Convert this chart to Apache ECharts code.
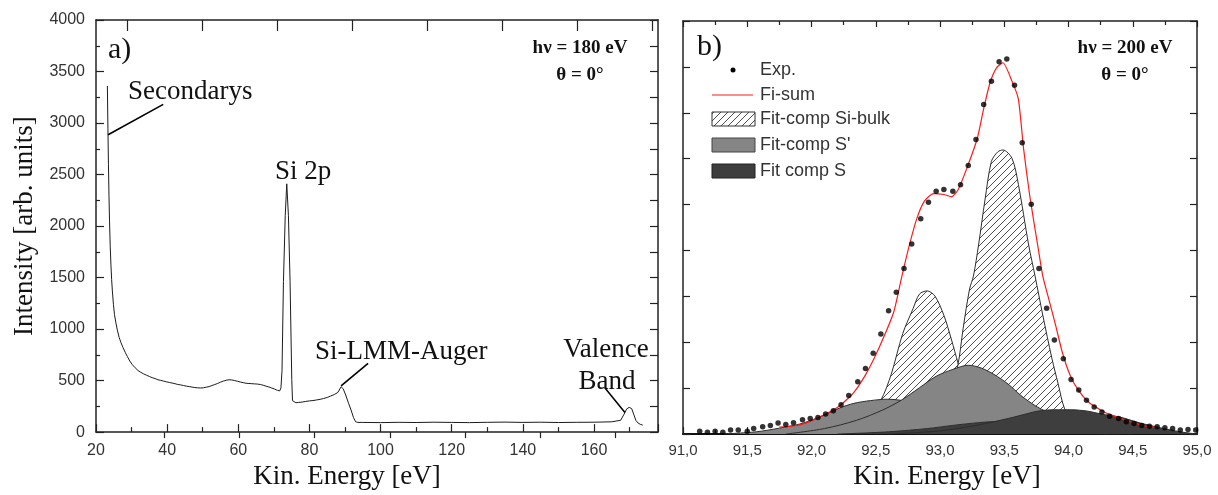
<!DOCTYPE html>
<html><head><meta charset="utf-8">
<script src="https://cdn.jsdelivr.net/npm/echarts@6/dist/echarts.min.js"></script>
<style>html,body{margin:0;padding:0;background:#fff}#c{width:1218px;height:495px}</style>
</head><body><div id="c"></div>
<script>
// ---------- Panel a) survey spectrum ----------
const specX = [23.2,23.35,23.5,23.65,23.8,24.0,24.2,24.4,24.6,24.9,25.2,25.6,26.0,26.5,27.0,27.6,28.2,28.8,29.5,30.2,31.0,31.8,32.6,33.4,34.2,35.0,35.8,36.6,37.4,38.2,39.0,39.8,40.6,41.4,42.2,43.0,43.8,44.6,45.4,46.2,47.0,47.8,48.6,49.4,50.2,51.0,51.8,52.6,53.4,54.2,55.0,55.8,56.6,57.4,58.2,59.0,59.8,60.6,61.4,62.2,63.0,63.8,64.6,65.4,66.2,67.0,67.8,68.6,69.4,70.2,71.0,71.65,72.0,72.3,72.7,73.2,73.63,74.1,74.56,75.04,75.24,75.6,76.2,77,78,79,80,81,82,83,84,85,86,87,88,88.9,89.5,90.2,91.0,91.7,92.4,93.0,93.6,95,100,105,110,115,120,125,130,135,140,145,150,155,160,165,167.5,168.4,169.2,169.9,170.6,171.2,171.8,172.4,173.0,173.7,174.4];
const specY = [3360,2950,2600,2300,2050,1800,1620,1480,1370,1240,1140,1060,990,920,870,820,775,735,690,655,625,598,580,565,552,540,528,520,508,502,495,488,482,476,470,462,458,452,446,442,437,432,430,428,430,436,442,452,462,472,485,495,503,508,506,500,493,486,480,474,472,470,468,466,462,455,446,438,428,418,405,400,430,600,1460,2100,2410,2100,1460,510,305,290,285,288,292,298,303,306,312,318,326,336,350,365,385,440,420,360,280,215,140,100,94,94,92,95,93,96,94,92,95,97,94,96,93,95,96,100,115,170,225,240,228,170,112,88,76,68];

// ---------- Panel b) Si 2p fit ----------
const expX = [91.13,91.19,91.25,91.31,91.37,91.43,91.50,91.55,91.62,91.68,91.74,91.80,91.86,91.93,91.99,92.05,92.11,92.17,92.23,92.29,92.36,92.42,92.48,92.54,92.60,92.66,92.72,92.78,92.85,92.91,92.97,93.03,93.10,93.16,93.22,93.28,93.34,93.40,93.46,93.52,93.58,93.64,93.71,93.77,93.83,93.89,93.96,94.02,94.08,94.14,94.20,94.26,94.32,94.39,94.45,94.51,94.57,94.63,94.69,94.75,94.81,94.87,94.93,94.99];
const expY = [0.06,0.04,0.06,0.04,0.09,0.09,0.06,0.12,0.16,0.19,0.24,0.21,0.25,0.31,0.34,0.36,0.44,0.51,0.64,0.84,1.14,1.43,1.76,2.18,2.69,3.09,3.61,4.14,4.69,5.05,5.29,5.33,5.29,5.43,5.85,6.42,7.18,7.69,8.11,8.17,7.60,6.35,5.01,3.61,2.74,2.05,1.64,1.19,0.96,0.74,0.59,0.48,0.39,0.34,0.27,0.23,0.19,0.17,0.16,0.14,0.12,0.09,0.10,0.09];

const sumX = [91.75,91.91,92.07,92.22,92.33,92.43,92.53,92.64,92.70,92.76,92.82,92.88,92.95,93.03,93.09,93.14,93.21,93.29,93.34,93.39,93.44,93.49,93.56,93.61,93.65,93.70,93.76,93.80,93.84,93.90,93.95,94.01,94.08,94.16,94.26,94.32,94.45,94.58,94.69];
const sumY = [0.15,0.20,0.38,0.62,0.91,1.34,1.91,2.66,3.40,4.10,4.70,5.08,5.24,5.22,5.17,5.32,5.80,6.44,7.09,7.66,7.98,8.09,7.69,7.30,6.23,5.16,4.12,3.44,3.01,2.37,1.80,1.30,0.94,0.69,0.51,0.43,0.30,0.19,0.14];

const siBulk1X = [92.2,92.35,92.45,92.54,92.62,92.71,92.79,92.84,92.90,92.96,93.03,93.09,93.14,93.2,93.3,93.45,93.6];
const siBulk1Y = [0.0,0.15,0.45,0.74,1.30,2.19,2.73,3.05,3.12,3.01,2.59,2.05,1.55,1.0,0.45,0.12,0.0];
const siBulk2X = [92.7,92.9,93.0,93.08,93.14,93.18,93.23,93.26,93.30,93.35,93.40,93.45,93.49,93.56,93.61,93.69,93.74,93.80,93.87,93.92,93.97,94.05,94.15,94.3];
const siBulk2Y = [0.0,0.2,0.45,0.9,1.51,2.30,3.16,3.44,4.12,5.1,5.94,6.15,6.19,6.01,5.44,4.12,3.44,2.59,1.66,1.09,0.55,0.2,0.05,0.0];
const sPrime1X = [91.3,91.57,91.75,91.91,92.07,92.22,92.33,92.46,92.59,92.71,92.84,92.97,93.10,93.27,93.45,93.7,94.0,94.4];
const sPrime1Y = [0.0,0.05,0.13,0.22,0.38,0.57,0.67,0.73,0.76,0.73,0.65,0.51,0.37,0.25,0.14,0.06,0.02,0.0];
const sPrime2X = [91.8,92.1,92.35,92.55,92.70,92.84,92.97,93.10,93.22,93.32,93.42,93.53,93.63,93.74,93.82,93.95,94.1,94.3,94.6,95.0];
const sPrime2Y = [0.0,0.12,0.30,0.52,0.74,1.01,1.26,1.41,1.50,1.44,1.30,1.09,0.84,0.62,0.50,0.34,0.20,0.10,0.03,0.0];
const s1X = [92.2,92.6,92.9,93.1,93.3,93.42,93.55,93.7,93.9,94.2,94.5];
const s1Y = [0.0,0.05,0.12,0.19,0.25,0.27,0.25,0.19,0.10,0.03,0.0];
const s2X = [92.6,93.0,93.3,93.53,93.63,93.76,93.89,94.02,94.15,94.25,94.4,94.56,94.71,94.87,95.0];
const s2Y = [0.0,0.07,0.20,0.34,0.41,0.50,0.53,0.53,0.50,0.44,0.37,0.24,0.14,0.05,0.0];

// tick positions of the offset top axis of panel a)
const topLongTicks = [0,2,4,6,8,10,12,14];
const topShortTicks = [1,3,5,7,9,11,13];

const legendNames = ['Exp.','Fi-sum','Fit-comp Si-bulk',"Fit-comp S'",'Fit comp S'];

const pairs = (xs, ys) => xs.map((x, i) => [x, ys[i]]);

const SERIF = "'Liberation Serif','Times New Roman',serif";
const SANS = "'Liberation Sans',Arial,sans-serif";
const AX = '#222';

// hatch pattern
const pc = document.createElement('canvas');
pc.width = 7; pc.height = 7;
const g = pc.getContext('2d');
g.fillStyle = '#fff'; g.fillRect(0, 0, 7, 7);
g.strokeStyle = '#3a3a3a'; g.lineWidth = 0.9;
g.beginPath();
g.moveTo(0, 7); g.lineTo(7, 0);
g.moveTo(-1, 1); g.lineTo(1, -1);
g.moveTo(6, 8); g.lineTo(8, 6);
g.stroke();
const hatch = { image: pc, repeat: 'repeat' };

function ax(extra) {
  return Object.assign({
    type: 'value',
    axisLine: { show: true, onZero: false, lineStyle: { color: AX, width: 1.5 } },
    axisTick: { show: true, inside: true, length: 8, lineStyle: { color: AX, width: 1.2 } },
    minorTick: { show: true, splitNumber: 2, length: 4, lineStyle: { color: AX, width: 1.2 } },
    splitLine: { show: false },
    minorSplitLine: { show: false },
    axisLabel: { show: false }
  }, extra);
}

const chart = echarts.init(document.getElementById('c'), null, { renderer: 'canvas' });

function compSeries(name, xs, ys, fill, z) {
  return {
    name, type: 'line', xAxisIndex: 4, yAxisIndex: 2,
    data: pairs(xs, ys), showSymbol: false, symbol: 'none', smooth: 0.3,
    lineStyle: { color: '#2e2e2e', width: 1 },
    areaStyle: { color: fill, opacity: 1, origin: 'start' },
    z, silent: true
  };
}

const option = {
  animation: false,
  backgroundColor: '#fff',
  grid: [
    { left: 96, top: 20, width: 562, height: 420 },
    { left: 683, top: 21, width: 514, height: 420 }
  ],
  xAxis: [
    ax({ gridIndex: 0, position: 'bottom', min: 20, max: 178, interval: 20,
      axisLabel: { show: true, fontSize: 16, color: '#333', fontFamily: SANS, margin: 10, showMaxLabel: false, formatter: v => String(v) },
      minorTick: { show: true, splitNumber: 2, length: 5, lineStyle: { color: AX, width: 1.2 } },
      name: 'Kin. Energy [eV]', nameLocation: 'middle', nameGap: 24,
      nameTextStyle: { fontFamily: SERIF, fontSize: 27, color: '#111', padding: [0, 60, 0, 0] } }),
    ax({ gridIndex: 0, position: 'top', min: -0.826, max: 14.145,
      axisTick: { show: true, inside: true, length: 11, customValues: topLongTicks, lineStyle: { color: AX, width: 1.2 } },
      minorTick: { show: false } }),
    ax({ gridIndex: 0, position: 'top', min: -0.826, max: 14.145,
      axisLine: { show: false },
      axisTick: { show: true, inside: true, length: 6, customValues: topShortTicks, lineStyle: { color: AX, width: 1.2 } },
      minorTick: { show: false } }),
    ax({ gridIndex: 1, position: 'bottom', min: 91, max: 95, interval: 0.5,
      axisLine: { show: true, onZero: false, lineStyle: { color: '#111', width: 2 } },
      axisTick: { show: true, inside: true, length: 7, lineStyle: { color: AX, width: 1.2 } },
      axisLabel: { show: true, fontSize: 15, color: '#333', fontFamily: SANS, margin: 9,
        formatter: v => v.toFixed(1).replace('.', ',') },
      name: 'Kin. Energy [eV]', nameLocation: 'middle', nameGap: 24,
      nameTextStyle: { fontFamily: SERIF, fontSize: 27, color: '#111', padding: [0, 0, 0, 14] } }),
    ax({ gridIndex: 1, position: 'bottom', min: 91, max: 95, interval: 0.5, show: false }),
    ax({ gridIndex: 1, position: 'top', min: 91, max: 95, interval: 0.5,
      axisTick: { show: true, inside: true, length: 6, lineStyle: { color: AX, width: 1.2 } },
      minorTick: { show: true, splitNumber: 2, length: 4, lineStyle: { color: AX, width: 1.2 } } })
  ],
  yAxis: [
    ax({ gridIndex: 0, position: 'left', min: 0, max: 4000, interval: 500,
      axisLabel: { show: true, fontSize: 16, color: '#333', fontFamily: SANS, margin: 11, formatter: v => String(v) },
      name: 'Intensity [arb. units]', nameLocation: 'middle', nameGap: 58,
      nameTextStyle: { fontFamily: SERIF, fontSize: 27, color: '#111' } }),
    ax({ gridIndex: 0, position: 'right', min: 0, max: 4000, interval: 500,
      axisTick: { show: true, inside: true, length: 8, lineStyle: { color: AX, width: 1.2 } },
      minorTick: { show: true, splitNumber: 2, length: 8, lineStyle: { color: AX, width: 1.2 } } }),
    ax({ gridIndex: 1, position: 'left', min: 0, max: 9, interval: 1,
      axisTick: { show: true, inside: true, length: 7, lineStyle: { color: AX, width: 1.2 } },
      minorTick: { show: false } }),
    ax({ gridIndex: 1, position: 'right', min: 0, max: 9, interval: 1,
      axisTick: { show: true, inside: true, length: 7, lineStyle: { color: AX, width: 1.2 } },
      minorTick: { show: false } })
  ],
  series: [
    {
      name: 'spectrum', type: 'line', xAxisIndex: 0, yAxisIndex: 0,
      data: pairs(specX, specY), showSymbol: false, symbol: 'none',
      lineStyle: { color: '#1c1c1c', width: 1 }, z: 3, silent: true,
      markLine: {
        silent: true, symbol: ['none', 'none'], label: { show: false },
        lineStyle: { color: '#000', width: 1.6, type: 'solid' },
        data: [
          [{ coord: [23.4, 2886] }, { coord: [38.9, 3181] }],
          [{ coord: [88.9, 448] }, { coord: [96.5, 667] }],
          [{ coord: [163.1, 429] }, { coord: [168.7, 190] }]
        ]
      }
    },
    compSeries(legendNames[2] + ' 1', siBulk1X, siBulk1Y, hatch, 2),
    compSeries(legendNames[2] + ' 2', siBulk2X, siBulk2Y, hatch, 3),
    compSeries(legendNames[3] + ' 1', sPrime1X, sPrime1Y, '#858585', 4),
    compSeries(legendNames[3] + ' 2', sPrime2X, sPrime2Y, '#858585', 5),
    compSeries(legendNames[4] + ' 1', s1X, s1Y, '#3e3e3e', 6),
    compSeries(legendNames[4] + ' 2', s2X, s2Y, '#3e3e3e', 7),
    {
      name: legendNames[1], type: 'line', xAxisIndex: 4, yAxisIndex: 2,
      data: pairs(sumX, sumY), showSymbol: false, symbol: 'none', smooth: 0.2,
      lineStyle: { color: '#ff1a1a', width: 1.2 }, z: 8, silent: true
    },
    {
      name: legendNames[0], type: 'scatter', xAxisIndex: 4, yAxisIndex: 2,
      data: pairs(expX, expY), symbol: 'circle', symbolSize: 5.5,
      itemStyle: { color: '#000' }, z: 9, silent: true
    }
  ],
  graphic: [
    // panel a texts
    { type: 'text', x: 108, y: 50, style: { text: 'a)', font: '30px ' + SERIF, fill: '#111', textVerticalAlign: 'middle', verticalAlign: 'middle' } },
    { type: 'text', x: 128, y: 92, style: { text: 'Secondarys', font: '27px ' + SERIF, fill: '#111', textVerticalAlign: 'middle', verticalAlign: 'middle' } },
    { type: 'text', x: 275, y: 172, style: { text: 'Si 2p', font: '27px ' + SERIF, fill: '#111', textVerticalAlign: 'middle', verticalAlign: 'middle' } },
    { type: 'text', x: 315, y: 352, style: { text: 'Si-LMM-Auger', font: '27px ' + SERIF, fill: '#111', textVerticalAlign: 'middle', verticalAlign: 'middle' } },
    { type: 'text', x: 606, y: 350, style: { text: 'Valence', font: '27px ' + SERIF, fill: '#111', textAlign: 'center', textVerticalAlign: 'middle', verticalAlign: 'middle' } },
    { type: 'text', x: 607, y: 382, style: { text: 'Band', font: '27px ' + SERIF, fill: '#111', textAlign: 'center', textVerticalAlign: 'middle', verticalAlign: 'middle' } },
    { type: 'text', x: 580, y: 48, style: { text: 'hν = 180 eV', font: 'bold 19px ' + SERIF, fill: '#111', textAlign: 'center', textVerticalAlign: 'middle', verticalAlign: 'middle' } },
    { type: 'text', x: 580, y: 75, style: { text: 'θ = 0°', font: 'bold 19px ' + SERIF, fill: '#111', textAlign: 'center', textVerticalAlign: 'middle', verticalAlign: 'middle' } },
    // panel b texts
    { type: 'text', x: 697, y: 47, style: { text: 'b)', font: '30px ' + SERIF, fill: '#111', textVerticalAlign: 'middle', verticalAlign: 'middle' } },
    { type: 'text', x: 1125, y: 48, style: { text: 'hν = 200 eV', font: 'bold 19px ' + SERIF, fill: '#111', textAlign: 'center', textVerticalAlign: 'middle', verticalAlign: 'middle' } },
    { type: 'text', x: 1125, y: 75, style: { text: 'θ = 0°', font: 'bold 19px ' + SERIF, fill: '#111', textAlign: 'center', textVerticalAlign: 'middle', verticalAlign: 'middle' } },
    // legend
    { type: 'circle', shape: { cx: 733, cy: 70, r: 2.5 }, style: { fill: '#000' } },
    { type: 'line', shape: { x1: 712, y1: 95, x2: 753, y2: 95 }, style: { stroke: '#ff1a1a', lineWidth: 1.2 } },
    { type: 'rect', shape: { x: 712, y: 112, width: 43, height: 14 }, style: { fill: hatch, stroke: '#333', lineWidth: 1 } },
    { type: 'rect', shape: { x: 712, y: 138, width: 43, height: 14 }, style: { fill: '#858585', stroke: '#444', lineWidth: 1 } },
    { type: 'rect', shape: { x: 712, y: 164, width: 43, height: 14 }, style: { fill: '#3e3e3e', stroke: '#222', lineWidth: 1 } },
    ...legendNames.map((t, i) => ({
      type: 'text', x: 760, y: [70, 95, 119, 145, 171][i],
      style: { text: t, font: '18px ' + SANS, fill: '#333', textVerticalAlign: 'middle', verticalAlign: 'middle' }
    }))
  ]
};
chart.setOption(option);
</script></body></html>
